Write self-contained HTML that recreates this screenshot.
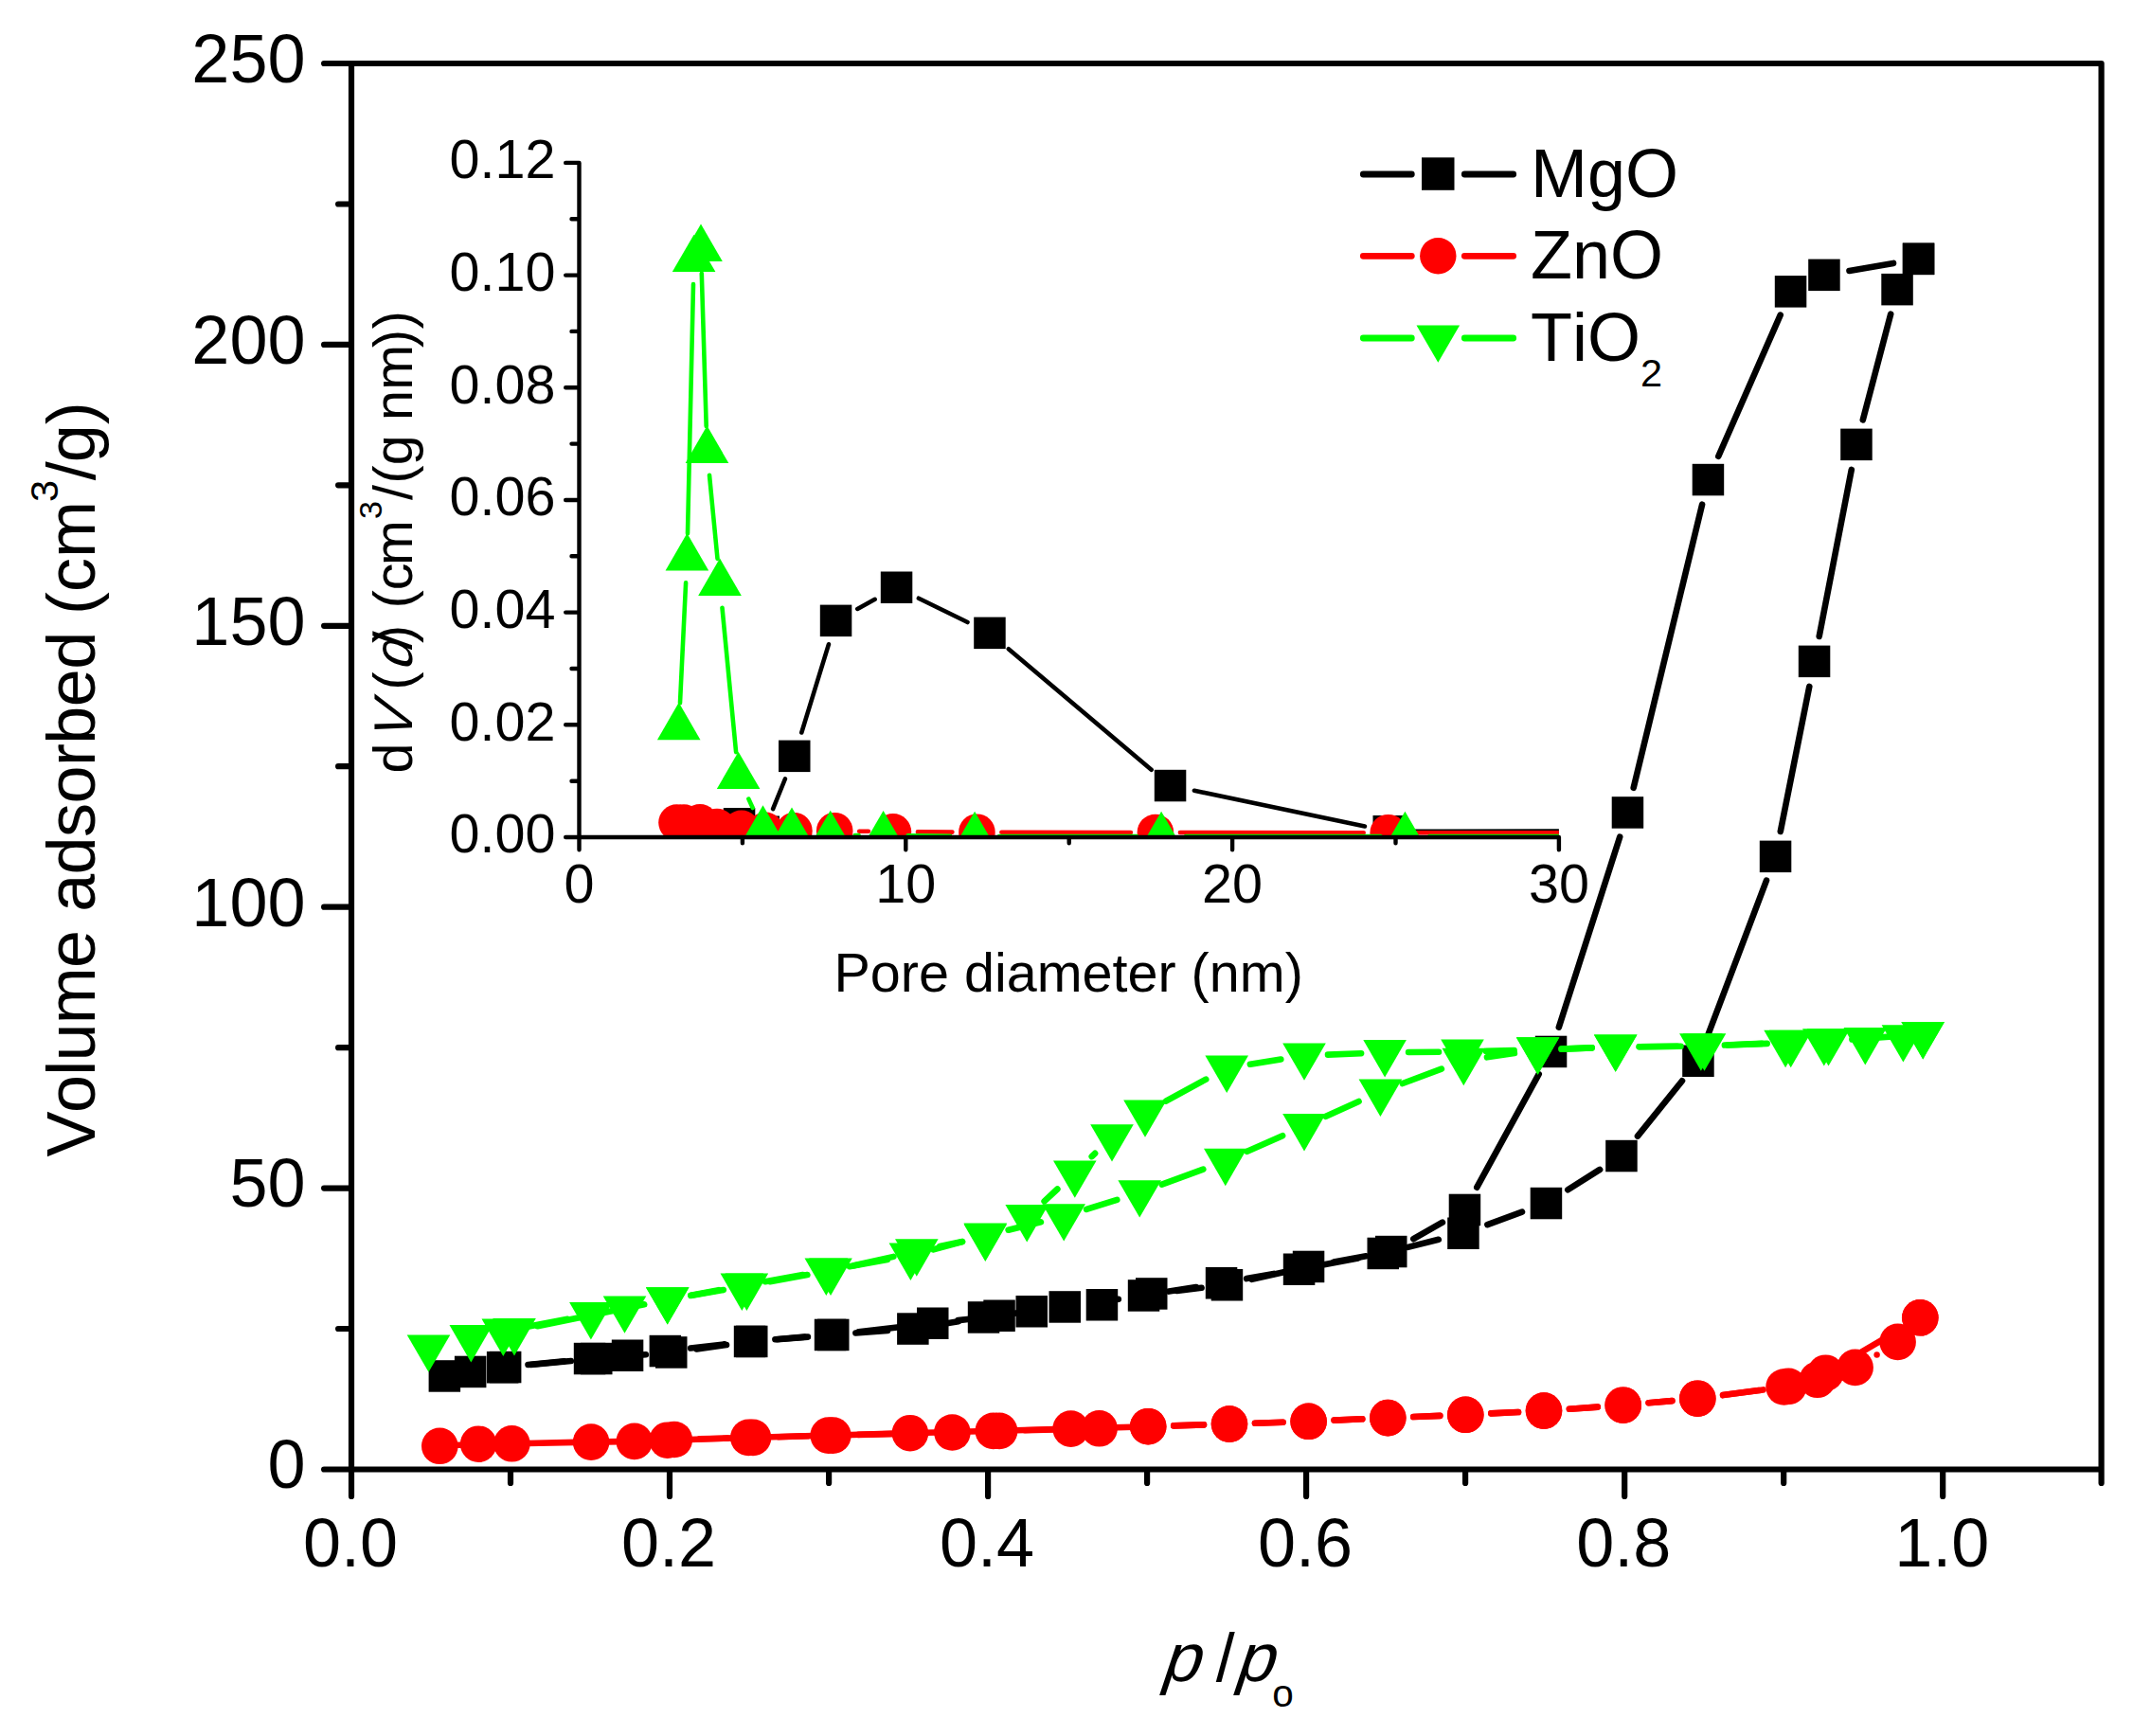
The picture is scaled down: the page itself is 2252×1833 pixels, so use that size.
<!DOCTYPE html>
<html lang="en"><head><meta charset="utf-8"><title>N2 adsorption isotherms</title>
<style>
html,body{margin:0;padding:0;background:#fff;}
svg{display:block;}
text{font-family:"Liberation Sans", sans-serif;fill:#000;font-kerning:none;}
</style></head><body>
<svg width="2252" height="1833" viewBox="0 0 2252 1833">
<rect x="0" y="0" width="2252" height="1833" fill="#fff"/>
<g id="main-series">
<path d="M557.5 1441.0L595.6 1437.2M729.2 1423.5L764.7 1419.4M818.4 1414.2L849.6 1411.6M903.4 1407.5L937.0 1405.0M990.5 1398.7L1011.9 1395.3M1065.3 1387.5L1097.5 1383.3M1151.0 1376.0L1180.8 1371.8M1234.2 1363.6L1262.8 1359.1M1316.1 1350.1L1344.9 1344.9M1398.0 1335.2L1433.8 1328.4M1486.5 1316.9L1518.8 1308.8M1570.4 1293.1L1607.0 1279.7M1655.3 1256.2L1689.1 1234.9M1729.0 1199.6L1776.0 1141.2M1802.5 1094.9L1865.0 929.7M1879.8 877.9L1910.3 724.9M1920.7 671.9L1954.8 495.9M1966.8 443.3L1996.2 331.7" stroke="#000" stroke-width="6.6" stroke-linecap="round" fill="none"/>
<path d="M1999.0 277.9L1952.5 285.9M1879.7 332.6L1814.3 481.8M1797.1 532.7L1724.7 831.8M1710.2 883.7L1645.8 1084.7M1624.7 1134.1L1559.3 1253.7M1522.9 1290.7L1492.3 1308.2M1442.2 1326.3L1408.2 1332.6M1355.3 1343.3L1321.7 1350.8M1268.6 1359.8L1242.5 1362.9M1136.5 1380.3L1116.2 1382.3M1028.3 1392.3L1011.6 1394.1M958.0 1400.3L906.6 1406.3M852.9 1411.6L820.7 1414.2M767.0 1420.0L735.5 1424.4M681.8 1430.2L656.6 1432.3M602.8 1437.0L560.5 1441.0" stroke="#000" stroke-width="6.6" stroke-linecap="round" fill="none"/>
<rect x="452.6" y="1436.2" width="33.5" height="33.5" fill="#000"/><rect x="479.9" y="1431.7" width="33.5" height="33.5" fill="#000"/><rect x="513.9" y="1427.0" width="33.5" height="33.5" fill="#000"/><rect x="605.8" y="1417.8" width="33.5" height="33.5" fill="#000"/><rect x="645.8" y="1414.5" width="33.5" height="33.5" fill="#000"/><rect x="685.6" y="1409.8" width="33.5" height="33.5" fill="#000"/><rect x="774.8" y="1399.7" width="33.5" height="33.5" fill="#000"/><rect x="859.8" y="1392.7" width="33.5" height="33.5" fill="#000"/><rect x="947.1" y="1386.3" width="33.5" height="33.5" fill="#000"/><rect x="1021.8" y="1374.2" width="33.5" height="33.5" fill="#000"/><rect x="1107.5" y="1363.2" width="33.5" height="33.5" fill="#000"/><rect x="1190.8" y="1351.2" width="33.5" height="33.5" fill="#000"/><rect x="1272.8" y="1338.0" width="33.5" height="33.5" fill="#000"/><rect x="1354.8" y="1323.5" width="33.5" height="33.5" fill="#000"/><rect x="1443.5" y="1306.7" width="33.5" height="33.5" fill="#000"/><rect x="1528.2" y="1285.5" width="33.5" height="33.5" fill="#000"/><rect x="1615.7" y="1253.8" width="33.5" height="33.5" fill="#000"/><rect x="1695.2" y="1203.8" width="33.5" height="33.5" fill="#000"/><rect x="1776.2" y="1103.5" width="33.5" height="33.5" fill="#000"/><rect x="1857.8" y="887.6" width="33.5" height="33.5" fill="#000"/><rect x="1898.8" y="681.6" width="33.5" height="33.5" fill="#000"/><rect x="1943.2" y="452.6" width="33.5" height="33.5" fill="#000"/><rect x="1986.3" y="288.9" width="33.5" height="33.5" fill="#000"/><rect x="2008.8" y="256.6" width="33.5" height="33.5" fill="#000"/><rect x="2008.8" y="256.6" width="33.5" height="33.5" fill="#000"/><rect x="1909.2" y="273.6" width="33.5" height="33.5" fill="#000"/><rect x="1873.8" y="291.1" width="33.5" height="33.5" fill="#000"/><rect x="1786.7" y="489.8" width="33.5" height="33.5" fill="#000"/><rect x="1701.7" y="841.2" width="33.5" height="33.5" fill="#000"/><rect x="1620.8" y="1093.7" width="33.5" height="33.5" fill="#000"/><rect x="1529.7" y="1260.7" width="33.5" height="33.5" fill="#000"/><rect x="1452.0" y="1304.8" width="33.5" height="33.5" fill="#000"/><rect x="1364.8" y="1320.7" width="33.5" height="33.5" fill="#000"/><rect x="1278.7" y="1340.0" width="33.5" height="33.5" fill="#000"/><rect x="1199.0" y="1349.2" width="33.5" height="33.5" fill="#000"/><rect x="1146.7" y="1361.0" width="33.5" height="33.5" fill="#000"/><rect x="1072.5" y="1368.0" width="33.5" height="33.5" fill="#000"/><rect x="1038.3" y="1372.5" width="33.5" height="33.5" fill="#000"/><rect x="968.0" y="1380.5" width="33.5" height="33.5" fill="#000"/><rect x="863.0" y="1392.7" width="33.5" height="33.5" fill="#000"/><rect x="777.0" y="1399.7" width="33.5" height="33.5" fill="#000"/><rect x="692.0" y="1411.2" width="33.5" height="33.5" fill="#000"/><rect x="613.0" y="1417.8" width="33.5" height="33.5" fill="#000"/><rect x="516.9" y="1426.8" width="33.5" height="33.5" fill="#000"/>
<path d="M480.3 1526.0L489.2 1525.5M521.2 1524.5L524.4 1524.5M556.4 1524.0L608.1 1522.9M640.1 1522.4L653.8 1522.1M685.8 1521.4L688.7 1521.2M720.7 1520.2L774.3 1518.4M806.3 1517.5L858.7 1516.0M890.7 1515.2L944.9 1513.6M976.9 1512.8L1032.8 1511.3M1064.8 1510.5L1114.6 1509.0M1146.6 1508.1L1196.2 1506.7" stroke="#ff0000" stroke-width="6.6" stroke-linecap="round" fill="none"/>
<path d="M1239.2 1505.4L1271.0 1504.4M1325.0 1502.7L1354.6 1501.7M1408.6 1499.6L1438.3 1498.3M1492.3 1496.0L1520.3 1494.9M1574.3 1492.4L1603.0 1491.0M1656.9 1487.7L1686.8 1485.6M1740.6 1481.3L1765.4 1479.1M1819.1 1473.1L1856.8 1468.1" stroke="#ff0000" stroke-width="6.6" stroke-linecap="round" fill="none"/>
<path d="M2004.0 1404.9L1950.8 1436.1M1861.5 1467.4L1819.1 1473.1M1765.4 1479.1L1740.6 1481.3M1686.8 1485.6L1656.9 1487.7M1603.0 1491.0L1574.3 1492.4M1520.3 1494.9L1492.3 1496.0M1438.3 1498.3L1408.6 1499.6M1354.6 1501.7L1325.0 1502.7M1271.0 1504.4L1239.2 1505.4M1133.6 1509.0L1082.1 1510.2M978.4 1513.2L906.4 1514.9M852.4 1516.3L822.0 1517.2M768.0 1518.6L738.8 1519.3" stroke="#ff0000" stroke-width="6.6" stroke-linecap="round" fill="none"/>
<circle cx="464.3" cy="1526.8" r="19.3" fill="#ff0000"/><circle cx="505.2" cy="1524.7" r="19.3" fill="#ff0000"/><circle cx="540.4" cy="1524.3" r="19.3" fill="#ff0000"/><circle cx="624.1" cy="1522.6" r="19.3" fill="#ff0000"/><circle cx="669.8" cy="1521.9" r="19.3" fill="#ff0000"/><circle cx="704.7" cy="1520.7" r="19.3" fill="#ff0000"/><circle cx="790.3" cy="1517.9" r="19.3" fill="#ff0000"/><circle cx="874.7" cy="1515.6" r="19.3" fill="#ff0000"/><circle cx="960.9" cy="1513.2" r="19.3" fill="#ff0000"/><circle cx="1048.8" cy="1510.9" r="19.3" fill="#ff0000"/><circle cx="1130.6" cy="1508.6" r="19.3" fill="#ff0000"/><circle cx="1212.2" cy="1506.2" r="19.3" fill="#ff0000"/><circle cx="1298.0" cy="1503.6" r="19.3" fill="#ff0000"/><circle cx="1381.6" cy="1500.8" r="19.3" fill="#ff0000"/><circle cx="1465.3" cy="1497.1" r="19.3" fill="#ff0000"/><circle cx="1547.3" cy="1493.8" r="19.3" fill="#ff0000"/><circle cx="1630.0" cy="1489.6" r="19.3" fill="#ff0000"/><circle cx="1713.7" cy="1483.7" r="19.3" fill="#ff0000"/><circle cx="1792.3" cy="1476.7" r="19.3" fill="#ff0000"/><circle cx="1883.6" cy="1464.5" r="19.3" fill="#ff0000"/><circle cx="1918.8" cy="1456.8" r="19.3" fill="#ff0000"/><circle cx="1958.6" cy="1443.9" r="19.3" fill="#ff0000"/><circle cx="2003.6" cy="1416.9" r="19.3" fill="#ff0000"/><circle cx="2027.3" cy="1391.3" r="19.3" fill="#ff0000"/><circle cx="2027.3" cy="1391.3" r="19.3" fill="#ff0000"/><circle cx="1927.5" cy="1449.7" r="19.3" fill="#ff0000"/><circle cx="1888.3" cy="1463.8" r="19.3" fill="#ff0000"/><circle cx="1792.3" cy="1476.7" r="19.3" fill="#ff0000"/><circle cx="1713.7" cy="1483.7" r="19.3" fill="#ff0000"/><circle cx="1630.0" cy="1489.6" r="19.3" fill="#ff0000"/><circle cx="1547.3" cy="1493.8" r="19.3" fill="#ff0000"/><circle cx="1465.3" cy="1497.1" r="19.3" fill="#ff0000"/><circle cx="1381.6" cy="1500.8" r="19.3" fill="#ff0000"/><circle cx="1298.0" cy="1503.6" r="19.3" fill="#ff0000"/><circle cx="1212.2" cy="1506.2" r="19.3" fill="#ff0000"/><circle cx="1160.6" cy="1508.3" r="19.3" fill="#ff0000"/><circle cx="1055.1" cy="1510.9" r="19.3" fill="#ff0000"/><circle cx="1005.4" cy="1512.5" r="19.3" fill="#ff0000"/><circle cx="879.4" cy="1515.6" r="19.3" fill="#ff0000"/><circle cx="795.0" cy="1517.9" r="19.3" fill="#ff0000"/><circle cx="711.8" cy="1520.0" r="19.3" fill="#ff0000"/>
<path d="M555.9 1401.0L599.3 1392.8M729.3 1367.7L758.7 1362.2M807.9 1353.2L847.7 1346.1M896.9 1337.2L936.8 1330.1M985.6 1319.3L1016.1 1311.1M1064.6 1298.7L1098.9 1290.3M1147.1 1276.9L1179.3 1266.8M1226.7 1250.7L1270.3 1234.6M1316.7 1215.8L1354.1 1199.2M1399.8 1178.8L1434.6 1163.0M1480.8 1144.0L1521.9 1128.7M1570.0 1116.3L1598.9 1112.1M1648.6 1107.6L1680.7 1106.4M1730.7 1105.2L1770.9 1104.7M1820.9 1103.5L1860.1 1101.9" stroke="#00ff00" stroke-width="6.6" stroke-linecap="round" fill="none"/>
<path d="M2005.3 1093.9L1955.4 1097.5M1865.7 1101.9L1824.5 1103.5M1774.5 1104.7L1730.7 1105.2M1680.7 1106.4L1648.6 1107.6M1598.6 1109.1L1569.0 1109.9M1519.0 1110.7L1487.1 1111.0M1437.1 1112.2L1402.0 1113.6M1352.3 1118.5L1319.9 1123.7M1273.2 1139.6L1231.0 1162.6M1156.1 1217.8L1152.7 1221.1M1116.4 1255.5L1102.6 1268.3M1015.9 1311.0L992.2 1316.1M943.4 1326.9L901.4 1336.2M852.4 1346.1L813.0 1353.2M763.8 1362.0L729.3 1368.0M680.2 1377.3L567.5 1400.2" stroke="#00ff00" stroke-width="6.6" stroke-linecap="round" fill="none"/>
<path d="M429.7 1409.4h45.6L452.5 1448.8z" fill="#00ff00"/><path d="M474.5 1399.1h45.6L497.3 1438.5z" fill="#00ff00"/><path d="M508.5 1392.5h45.6L531.3 1431.9z" fill="#00ff00"/><path d="M601.1 1375.0h45.6L623.9 1414.4z" fill="#00ff00"/><path d="M636.7 1368.4h45.6L659.5 1407.8z" fill="#00ff00"/><path d="M681.9 1359.2h45.6L704.7 1398.6z" fill="#00ff00"/><path d="M760.5 1344.5h45.6L783.3 1383.9z" fill="#00ff00"/><path d="M849.5 1328.5h45.6L872.3 1367.9z" fill="#00ff00"/><path d="M938.6 1312.6h45.6L961.4 1352.0z" fill="#00ff00"/><path d="M1017.5 1291.5h45.6L1040.3 1330.9z" fill="#00ff00"/><path d="M1100.4 1271.2h45.6L1123.2 1310.6z" fill="#00ff00"/><path d="M1180.4 1246.2h45.6L1203.2 1285.6z" fill="#00ff00"/><path d="M1271.0 1212.8h45.6L1293.8 1252.2z" fill="#00ff00"/><path d="M1354.2 1176.0h45.6L1377.0 1215.4z" fill="#00ff00"/><path d="M1434.6 1139.6h45.6L1457.4 1179.0z" fill="#00ff00"/><path d="M1522.5 1106.8h45.6L1545.3 1146.2z" fill="#00ff00"/><path d="M1600.8 1095.3h45.6L1623.6 1134.7z" fill="#00ff00"/><path d="M1682.9 1092.4h45.6L1705.7 1131.8z" fill="#00ff00"/><path d="M1773.1 1091.3h45.6L1795.9 1130.7z" fill="#00ff00"/><path d="M1862.3 1087.8h45.6L1885.1 1127.2z" fill="#00ff00"/><path d="M1903.0 1086.2h45.6L1925.8 1125.6z" fill="#00ff00"/><path d="M1946.5 1085.1h45.6L1969.3 1124.5z" fill="#00ff00"/><path d="M1986.6 1082.2h45.6L2009.4 1121.6z" fill="#00ff00"/><path d="M2007.4 1079.0h45.6L2030.2 1118.4z" fill="#00ff00"/><path d="M2007.4 1079.0h45.6L2030.2 1118.4z" fill="#00ff00"/><path d="M1907.7 1086.2h45.6L1930.5 1125.6z" fill="#00ff00"/><path d="M1867.9 1087.8h45.6L1890.7 1127.2z" fill="#00ff00"/><path d="M1776.7 1091.3h45.6L1799.5 1130.7z" fill="#00ff00"/><path d="M1682.9 1092.4h45.6L1705.7 1131.8z" fill="#00ff00"/><path d="M1600.8 1095.3h45.6L1623.6 1134.7z" fill="#00ff00"/><path d="M1521.2 1097.4h45.6L1544.0 1136.8z" fill="#00ff00"/><path d="M1439.3 1098.1h45.6L1462.1 1137.5z" fill="#00ff00"/><path d="M1354.2 1101.4h45.6L1377.0 1140.8z" fill="#00ff00"/><path d="M1272.4 1114.5h45.6L1295.2 1153.9z" fill="#00ff00"/><path d="M1186.2 1161.4h45.6L1209.0 1200.8z" fill="#00ff00"/><path d="M1151.2 1187.2h45.6L1174.0 1226.6z" fill="#00ff00"/><path d="M1112.0 1225.4h45.6L1134.8 1264.8z" fill="#00ff00"/><path d="M1061.4 1272.1h45.6L1084.2 1311.5z" fill="#00ff00"/><path d="M1017.5 1292.5h45.6L1040.3 1331.9z" fill="#00ff00"/><path d="M945.0 1308.3h45.6L967.8 1347.7z" fill="#00ff00"/><path d="M854.2 1328.5h45.6L877.0 1367.9z" fill="#00ff00"/><path d="M765.6 1344.5h45.6L788.4 1383.9z" fill="#00ff00"/><path d="M681.9 1359.2h45.6L704.7 1398.6z" fill="#00ff00"/><path d="M520.2 1392.1h45.6L543.0 1431.5z" fill="#00ff00"/>
<circle cx="1981.6" cy="1430.5" r="3.2" fill="#ff0000"/>
</g>
<clipPath id="insetclip"><rect x="611.5" y="100" width="1034.4" height="784.0"/></clipPath>
<g id="inset-series" clip-path="url(#insetclip)">
<path d="M816.1 854.1L828.9 822.5M846.3 773.5L874.9 680.3M905.3 642.9L923.7 632.8M969.9 631.7L1021.5 657.0M1064.8 685.2L1215.6 812.7M1260.9 834.8L1440.9 872.5M1492.3 877.8L1734.0 877.6" stroke="#000" stroke-width="4.6" stroke-linecap="round" fill="none"/>
<rect x="763.8" y="853.0" width="33.5" height="33.5" fill="#000"/><rect x="789.5" y="861.5" width="33.5" height="33.5" fill="#000"/><rect x="822.0" y="781.6" width="33.5" height="33.5" fill="#000"/><rect x="865.8" y="638.6" width="33.5" height="33.5" fill="#000"/><rect x="929.8" y="603.5" width="33.5" height="33.5" fill="#000"/><rect x="1028.2" y="651.6" width="33.5" height="33.5" fill="#000"/><rect x="1218.8" y="812.8" width="33.5" height="33.5" fill="#000"/><rect x="1449.5" y="861.0" width="33.5" height="33.5" fill="#000"/><rect x="1743.2" y="860.9" width="33.5" height="33.5" fill="#000"/>
<path d="M907.2 877.7L916.9 877.8M968.9 878.4L1005.4 878.6M1057.4 878.7L1193.9 879.0M1245.9 879.0L1439.7 879.2M1491.7 879.2L1734.0 879.2" stroke="#ff0000" stroke-width="4.6" stroke-linecap="round" fill="none"/>
<circle cx="714.5" cy="868.6" r="19.3" fill="#ff0000"/><circle cx="722.0" cy="868.5" r="19.3" fill="#ff0000"/><circle cx="739.0" cy="868.4" r="19.3" fill="#ff0000"/><circle cx="757.0" cy="873.0" r="19.3" fill="#ff0000"/><circle cx="782.8" cy="874.8" r="19.3" fill="#ff0000"/><circle cx="808.0" cy="876.9" r="19.3" fill="#ff0000"/><circle cx="838.4" cy="877.2" r="19.3" fill="#ff0000"/><circle cx="881.2" cy="877.2" r="19.3" fill="#ff0000"/><circle cx="942.9" cy="878.3" r="19.3" fill="#ff0000"/><circle cx="1031.4" cy="878.7" r="19.3" fill="#ff0000"/><circle cx="1219.9" cy="879.0" r="19.3" fill="#ff0000"/><circle cx="1465.7" cy="879.2" r="19.3" fill="#ff0000"/><circle cx="1760.0" cy="879.2" r="19.3" fill="#ff0000"/>
<path d="M718.0 742.1L724.1 615.3M726.0 563.3L732.0 300.0M740.8 288.9L745.7 449.9M749.0 501.8L757.5 589.9M762.5 641.7L777.1 794.1M790.4 843.6L794.7 853.0M902.7 882.1L906.6 882.1M958.6 882.4L1003.1 882.8M1055.1 883.0L1200.1 883.0M1252.1 883.0L1457.4 883.0M1509.4 883.0L1734.0 883.0" stroke="#00ff00" stroke-width="4.6" stroke-linecap="round" fill="none"/>
<path d="M693.9 781.2h45.6L716.7 741.8z" fill="#00ff00"/><path d="M702.6 602.4h45.6L725.4 563.0z" fill="#00ff00"/><path d="M709.8 287.1h45.6L732.6 247.7z" fill="#00ff00"/><path d="M717.2 276.0h45.6L740.0 236.6z" fill="#00ff00"/><path d="M723.7 489.0h45.6L746.5 449.6z" fill="#00ff00"/><path d="M737.2 628.9h45.6L760.0 589.5z" fill="#00ff00"/><path d="M756.8 833.1h45.6L779.6 793.7z" fill="#00ff00"/><path d="M782.7 889.7h45.6L805.5 850.3z" fill="#00ff00"/><path d="M813.2 891.8h45.6L836.0 852.4z" fill="#00ff00"/><path d="M853.9 895.1h45.6L876.7 855.7z" fill="#00ff00"/><path d="M909.8 895.3h45.6L932.6 855.9z" fill="#00ff00"/><path d="M1006.3 896.1h45.6L1029.1 856.7z" fill="#00ff00"/><path d="M1203.3 896.1h45.6L1226.1 856.7z" fill="#00ff00"/><path d="M1460.6 896.1h45.6L1483.4 856.7z" fill="#00ff00"/><path d="M1737.2 896.1h45.6L1760.0 856.7z" fill="#00ff00"/>
</g>
<path d="M611.5 171.9V897.3M597.2 884.0H1645.9M597.2 765.3H611.5M597.2 646.6H611.5M597.2 528.0H611.5M597.2 409.3H611.5M597.2 290.6H611.5M597.2 171.9H611.5M603.5 824.7H611.5M603.5 706.0H611.5M603.5 587.3H611.5M603.5 468.6H611.5M603.5 349.9H611.5M603.5 231.2H611.5M956.3 884.0V897.3M1301.1 884.0V897.3M1645.9 884.0V897.3M783.9 884.0V890.3M1128.7 884.0V890.3M1473.5 884.0V890.3" stroke="#000" stroke-width="4.4" stroke-linecap="round" fill="none"/>
<text x="586.5" y="900.3" font-size="57.5" text-anchor="end">0.00</text>
<text x="586.5" y="781.6" font-size="57.5" text-anchor="end">0.02</text>
<text x="586.5" y="662.9" font-size="57.5" text-anchor="end">0.04</text>
<text x="586.5" y="544.2" font-size="57.5" text-anchor="end">0.06</text>
<text x="586.5" y="425.6" font-size="57.5" text-anchor="end">0.08</text>
<text x="586.5" y="306.9" font-size="57.5" text-anchor="end">0.10</text>
<text x="586.5" y="188.2" font-size="57.5" text-anchor="end">0.12</text>
<text x="611.5" y="952.8" font-size="57.5" text-anchor="middle">0</text>
<text x="956.3" y="952.8" font-size="57.5" text-anchor="middle">10</text>
<text x="1301.1" y="952.8" font-size="57.5" text-anchor="middle">20</text>
<text x="1645.9" y="952.8" font-size="57.5" text-anchor="middle">30</text>
<text x="880.5" y="1046.6" font-size="57.5">Pore diameter (nm)</text>
<g id="inset-ylabel">
<text transform="translate(435.3,816.5) rotate(-90)" font-size="57.5" x="0">d</text>
<text transform="translate(435.3,816.5) rotate(-90) translate(31.8,0) skewX(-20)" font-size="57.5">V</text>
<text transform="translate(435.3,816.5) rotate(-90)" font-size="57.5" x="87.9">(</text>
<text transform="translate(435.3,816.5) rotate(-90) translate(107,0) skewX(-20)" font-size="57.5">d</text>
<text transform="translate(435.3,816.5) rotate(-90)" font-size="57.5" x="137.5 158 174.2 193.2 219.5">) (cm</text>
<text transform="translate(435.3,816.5) rotate(-90)" font-size="34" x="268.5" y="-32.2">3</text>
<text transform="translate(435.3,816.5) rotate(-90)" font-size="57.5" x="288.4 306 325.3 357 372.5 404.8 449.5 469.2">/(g nm))</text>
</g>
<path d="M371.0 67.0V1579.9M342.1 1551.5H2218.6M342.1 67.0H2218.6M2218.6 67.0V1565.9M342.1 1254.6H371.0M342.1 957.7H371.0M342.1 660.8H371.0M342.1 363.9H371.0M357.1 1403.0H371.0M357.1 1106.2H371.0M357.1 809.2H371.0M357.1 512.3H371.0M357.1 215.5H371.0M707.0 1551.5V1579.9M1043.1 1551.5V1579.9M1379.1 1551.5V1579.9M1715.2 1551.5V1579.9M2051.2 1551.5V1579.9M539.0 1551.5V1565.9M875.1 1551.5V1565.9M1211.1 1551.5V1565.9M1547.1 1551.5V1565.9M1883.2 1551.5V1565.9" stroke="#000" stroke-width="6.2" stroke-linecap="round" fill="none"/>
<text x="322.5" y="1571.3" font-size="72" text-anchor="end">0</text>
<text x="322.5" y="1274.4" font-size="72" text-anchor="end">50</text>
<text x="322.5" y="977.5" font-size="72" text-anchor="end">100</text>
<text x="322.5" y="680.6" font-size="72" text-anchor="end">150</text>
<text x="322.5" y="383.7" font-size="72" text-anchor="end">200</text>
<text x="322.5" y="86.8" font-size="72" text-anchor="end">250</text>
<text x="370.0" y="1653.8" font-size="72" text-anchor="middle">0.0</text>
<text x="706.0" y="1653.8" font-size="72" text-anchor="middle">0.2</text>
<text x="1042.1" y="1653.8" font-size="72" text-anchor="middle">0.4</text>
<text x="1378.1" y="1653.8" font-size="72" text-anchor="middle">0.6</text>
<text x="1714.2" y="1653.8" font-size="72" text-anchor="middle">0.8</text>
<text x="2050.2" y="1653.8" font-size="72" text-anchor="middle">1.0</text>
<text transform="translate(100,1221.5) rotate(-90)" font-size="72">V<tspan dx="-1.5" letter-spacing="-0.8">olume</tspan> <tspan letter-spacing="-0.6">adsorbed</tspan><tspan dx="-1.5"> (cm</tspan><tspan font-size="41.5" dy="-39.5" dx="-1">3</tspan><tspan dy="39.5" dx="-0.5">/</tspan><tspan dx="-1">g)</tspan></text>
<text transform="translate(1224.3,1774.8) skewX(-18.5)" font-size="72">p</text>
<text x="1283.7" y="1774.8" font-size="72">/</text>
<text transform="translate(1302.3,1774.8) skewX(-18.5)" font-size="72">p</text>
<text x="1343.3" y="1801.7" font-size="40.5">o</text>
<path d="M1439.3 184.0H1490.3M1546.3 184.0H1597.7" stroke="#000" stroke-width="6.8" stroke-linecap="round" fill="none"/>
<path d="M1439.3 270.3H1490.3M1546.3 270.3H1597.7" stroke="#ff0000" stroke-width="6.8" stroke-linecap="round" fill="none"/>
<path d="M1439.3 357.0H1490.3M1546.3 357.0H1597.7" stroke="#00ff00" stroke-width="6.8" stroke-linecap="round" fill="none"/>
<rect x="1501.0" y="166.3" width="34.5" height="34.5" fill="#000"/>
<circle cx="1518.3" cy="270.2" r="19.2" fill="#ff0000"/>
<path d="M1495.5 343.4h45.6L1518.3 382.8z" fill="#00ff00"/>
<text x="1616" y="208.2" font-size="72">MgO</text>
<text x="1616" y="294.2" font-size="72">ZnO</text>
<text x="1616" y="380.8" font-size="72">TiO<tspan font-size="41.5" dy="27" dx="0">2</tspan></text>
</svg></body></html>
